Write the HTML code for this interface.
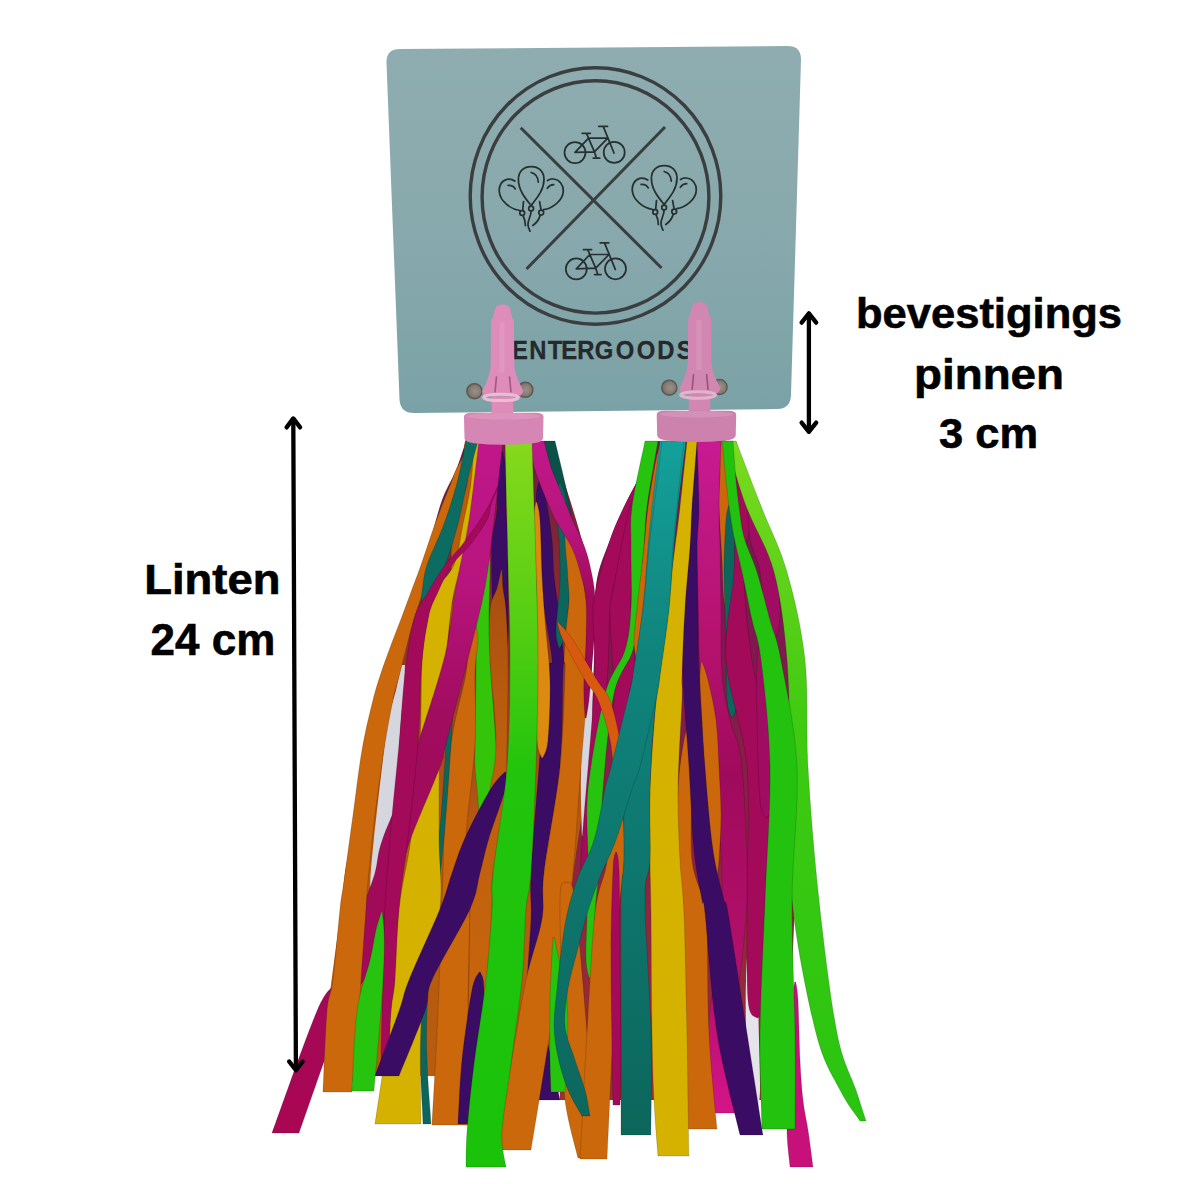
<!DOCTYPE html>
<html><head><meta charset="utf-8">
<style>
html,body{margin:0;padding:0;background:#fff;width:1200px;height:1184px;overflow:hidden}
svg{display:block}
text{font-family:"Liberation Sans",sans-serif;font-weight:bold}
</style></head><body>
<svg width="1200" height="1184" viewBox="0 0 1200 1184">
<defs>
<linearGradient id="cardg" x1="0" y1="0" x2="0" y2="1">
<stop offset="0" stop-color="#8fadb0"/><stop offset="0.55" stop-color="#87a8ac"/><stop offset="1" stop-color="#7aa2a6"/>
</linearGradient>
<linearGradient id="glm" gradientUnits="userSpaceOnUse" x1="0" y1="446" x2="0" y2="1167">
<stop offset="0" stop-color="#86d81c"/><stop offset="0.25" stop-color="#54ce12"/><stop offset="0.45" stop-color="#22c40c"/><stop offset="1" stop-color="#1ac20a"/>
</linearGradient>
<linearGradient id="glm2" gradientUnits="userSpaceOnUse" x1="0" y1="446" x2="0" y2="1130">
<stop offset="0" stop-color="#7ada1e"/><stop offset="0.4" stop-color="#40ca12"/><stop offset="1" stop-color="#28c410"/>
</linearGradient>
<linearGradient id="gtl" gradientUnits="userSpaceOnUse" x1="0" y1="445" x2="0" y2="1135">
<stop offset="0" stop-color="#14a09a"/><stop offset="0.3" stop-color="#0f847c"/><stop offset="1" stop-color="#0c665c"/>
</linearGradient>
<linearGradient id="gfl" gradientUnits="userSpaceOnUse" x1="0" y1="443" x2="0" y2="1076">
<stop offset="0" stop-color="#6a2040"/><stop offset="0.25" stop-color="#8a2a30"/><stop offset="0.6" stop-color="#b45a10"/><stop offset="1" stop-color="#b85c0e"/>
</linearGradient>
<linearGradient id="gfr" gradientUnits="userSpaceOnUse" x1="0" y1="443" x2="0" y2="1100">
<stop offset="0" stop-color="#6a2040"/><stop offset="0.3" stop-color="#801850"/><stop offset="1" stop-color="#9a3030"/>
</linearGradient>
<linearGradient id="gmg1" gradientUnits="userSpaceOnUse" x1="0" y1="441" x2="0" y2="1133">
<stop offset="0" stop-color="#c0168a"/><stop offset="0.2" stop-color="#b8147e"/><stop offset="0.4" stop-color="#a00c5e"/><stop offset="0.7" stop-color="#a00a58"/><stop offset="1" stop-color="#aa0654"/>
</linearGradient>
<linearGradient id="gor4" gradientUnits="userSpaceOnUse" x1="0" y1="560" x2="0" y2="1125">
<stop offset="0" stop-color="#a44c10"/><stop offset="0.3" stop-color="#bc5e0e"/><stop offset="1" stop-color="#cc680c"/>
</linearGradient>
<linearGradient id="gmga" gradientUnits="userSpaceOnUse" x1="0" y1="441" x2="0" y2="1113">
<stop offset="0" stop-color="#c81a92"/><stop offset="0.3" stop-color="#b4126e"/><stop offset="0.5" stop-color="#a00a5c"/><stop offset="0.8" stop-color="#b4106c"/><stop offset="1" stop-color="#d41488"/>
</linearGradient>
<radialGradient id="ghole" cx="0.55" cy="0.5" r="0.6">
<stop offset="0" stop-color="#9a928a"/><stop offset="0.6" stop-color="#847b73"/><stop offset="1" stop-color="#665e58"/>
</radialGradient>
<linearGradient id="gmg3" gradientUnits="userSpaceOnUse" x1="0" y1="441" x2="0" y2="700">
<stop offset="0" stop-color="#c0188a"/><stop offset="0.35" stop-color="#b8147c"/><stop offset="0.6" stop-color="#a00a58"/><stop offset="1" stop-color="#980852"/>
</linearGradient>
</defs>
<rect width="1200" height="1184" fill="#fff"/>
<!-- CARD -->
<path id="card" d="M400,49 L787.5,46 Q801.4,46 801,60 L791,395 Q790.5,409 777,409 L414,413 Q400,413 399.5,399 L386.5,63 Q386,49 400,49 Z" fill="url(#cardg)"/>
<!-- LOGO -->
<g fill="none" stroke="#3a3e3f" stroke-width="3.4">
<ellipse cx="595.5" cy="196" rx="125.3" ry="128.3"/>
<ellipse cx="595.5" cy="196.9" rx="113.4" ry="116.2"/>
<line x1="520.7" y1="127.7" x2="661.5" y2="268" stroke-width="3"/>
<line x1="665" y1="127" x2="526.5" y2="269" stroke-width="3"/>
</g>
<g id="bikes" fill="none" stroke="#273031" stroke-width="1.75" stroke-linecap="round" stroke-linejoin="round">
<g id="bike" transform="translate(560,120)">
<circle cx="15" cy="32.6" r="10.5"/>
<circle cx="54.2" cy="32.4" r="10.5"/>
<path d="M15,32.4 L34.4,31.8 L26.5,13.4 M22.2,13.3 L30.3,13.3 M28.6,18.1 L15,32.4 M28.6,18.1 L47.8,18.1 L34.4,31.8 M38.8,6.4 L47.5,6.4 M43.2,6.4 L54,33 M34.4,31.8 L36.5,38.2 M33.3,38.2 L39.7,38.2"/>
</g>
<use href="#bike" transform="translate(1.3,116.4)"/>
</g>
<g fill="none" stroke="#273031" stroke-width="1.75" stroke-linecap="round">
<g id="balloons" transform="translate(494,160)">
<path d="M37.1,45.5 C31,38 24.4,30 24.4,19.5 C24.4,11 30,6.7 37.2,6.7 C44.5,6.7 50,11 50,19.5 C50,30 43,38 37.1,45.5 Z"/>
<path d="M37.2,12.5 C41,13.5 44,17 44.3,22.1"/>
<circle cx="37.1" cy="48.5" r="2.4"/>
<path d="M37,51 C37.5,56 33.5,60 34,65 C34.3,68 35.5,70 36,71.2"/>
<path d="M20.8,21 C18,19 15,18.8 12.8,19.3 C7.5,20.5 5,26 5.2,31 C5.8,41 16,49 26,50.5"/>
<path d="M14.1,25.4 C17,25.2 20,26.5 21.2,28.9"/>
<path d="M29.5,41.7 L28.7,50"/>
<circle cx="28.2" cy="53" r="2.4"/>
<path d="M29,55.5 C30.5,58.5 31.3,62 31.4,65.5"/>
<path d="M53.5,20.5 C56,19 58,18.8 59.5,19 C65.5,19.5 69.5,25 69.3,31 C69,41 58,48.5 49.5,49.7"/>
<path d="M53.3,28.2 C55,26 57.5,24.8 59.7,24.7"/>
<path d="M45.6,41.7 L47,49.4"/>
<circle cx="47.2" cy="52.6" r="2.4"/>
<path d="M46.2,55 C45.5,59 43,62.5 38.8,65.5"/>
</g>
<use href="#balloons" transform="translate(133,-1)"/>
</g>
<g transform="scale(0.9,1)"><text x="568.9 588.0 608.7 623.6 641.3 660.9 684.2 707.6 730.2 752.0" y="359" font-size="26.5" fill="#25292b" stroke="#25292b" stroke-width="0.3">ENTERGOODS</text></g>
<!-- holes -->
<g fill="url(#ghole)" stroke="#5e5650" stroke-width="1.4">
<circle cx="474.4" cy="391.2" r="7.6"/><circle cx="525.3" cy="389.8" r="7.6"/>
<circle cx="669.3" cy="387.7" r="7.6"/><circle cx="719.5" cy="387" r="7.6"/>
</g>
<!-- RIBBONS placeholder -->
<g id="ribbons">
<path d="M466.0,441.0 C464.3,445.8 460.0,460.2 456.0,470.0 C452.0,479.8 446.2,488.3 442.0,500.0 C437.8,511.7 433.8,528.3 431.0,540.0 C428.2,551.7 429.2,558.3 425.0,570.0 C420.8,581.7 412.0,595.0 406.0,610.0 C400.0,625.0 394.0,645.0 389.0,660.0 C384.0,675.0 380.5,682.2 376.0,700.0 C371.5,717.8 366.2,744.0 362.0,767.0 C357.8,790.0 353.8,820.3 351.0,838.0 C348.2,855.7 346.7,861.2 345.0,873.0 C343.3,884.8 343.8,886.0 341.0,909.0 C338.2,932.0 330.8,983.2 328.0,1011.0 C325.2,1038.8 324.7,1065.2 324.0,1076.0 L600.0,1076.0 C600.0,1065.2 600.0,1038.8 600.0,1011.0 C600.0,983.2 600.3,932.0 600.0,909.0 C599.7,886.0 599.3,884.8 598.0,873.0 C596.7,861.2 593.7,855.7 592.0,838.0 C590.3,820.3 588.3,790.0 588.0,767.0 C587.7,744.0 589.3,717.8 590.0,700.0 C590.7,682.2 591.7,675.0 592.0,660.0 C592.3,645.0 592.3,625.0 592.0,610.0 C591.7,595.0 591.7,581.7 590.0,570.0 C588.3,558.3 585.3,551.7 582.0,540.0 C578.7,528.3 573.7,511.7 570.0,500.0 C566.3,488.3 564.0,479.8 560.0,470.0 C556.0,460.2 548.3,445.8 546.0,441.0 Z" fill="url(#gfl)"/>
<path d="M657.0,441.0 C654.7,445.8 648.5,459.0 643.0,470.0 C637.5,481.0 629.5,495.3 624.0,507.0 C618.5,518.7 614.7,527.0 610.0,540.0 C605.3,553.0 598.7,565.0 596.0,585.0 C593.3,605.0 595.3,629.7 594.0,660.0 C592.7,690.3 592.0,727.0 588.0,767.0 C584.0,807.0 574.7,855.7 570.0,900.0 C565.3,944.3 561.7,999.7 560.0,1033.0 C558.3,1066.3 560.0,1088.8 560.0,1100.0 L790.0,1100.0 C790.0,1088.8 789.2,1066.3 790.0,1033.0 C790.8,999.7 793.3,944.3 795.0,900.0 C796.7,855.7 799.2,807.0 800.0,767.0 C800.8,727.0 802.2,690.3 800.0,660.0 C797.8,629.7 792.0,605.0 787.0,585.0 C782.0,565.0 774.3,553.0 770.0,540.0 C765.7,527.0 765.2,518.7 761.0,507.0 C756.8,495.3 749.2,481.0 745.0,470.0 C740.8,459.0 737.5,445.8 736.0,441.0 Z" fill="url(#gfr)"/>
<path d="M749.0,930.0 C748.5,938.3 746.5,961.7 746.0,980.0 C745.5,998.3 745.7,1021.7 746.0,1040.0 C746.3,1058.3 747.3,1078.3 748.0,1090.0 C748.7,1101.7 749.7,1106.7 750.0,1110.0 L758.0,1110.0 C758.3,1106.7 759.8,1101.7 760.0,1090.0 C760.2,1078.3 759.5,1058.3 759.0,1040.0 C758.5,1021.7 758.3,998.3 757.0,980.0 C755.7,961.7 752.0,938.3 751.0,930.0 Z" fill="#e4e4ea"/>
<path d="M401.0,665.0 C400.2,669.2 398.2,680.8 396.0,690.0 C393.8,699.2 390.3,707.2 388.0,720.0 C385.7,732.8 384.3,747.3 382.0,767.0 C379.7,786.7 375.8,820.8 374.0,838.0 C372.2,855.2 371.7,861.3 371.0,870.0 C370.3,878.7 370.2,886.7 370.0,890.0 L374.0,890.0 C375.2,886.7 378.0,878.7 381.0,870.0 C384.0,861.3 389.2,855.2 392.0,838.0 C394.8,820.8 396.5,786.7 398.0,767.0 C399.5,747.3 400.0,732.8 401.0,720.0 C402.0,707.2 403.3,699.2 404.0,690.0 C404.7,680.8 404.8,669.2 405.0,665.0 Z" fill="#d6d6de"/>
<path d="M584.0,660.0 C583.7,666.7 582.5,682.2 582.0,700.0 C581.5,717.8 581.2,750.3 581.0,767.0 C580.8,783.7 580.8,788.5 581.0,800.0 C581.2,811.5 581.8,830.0 582.0,836.0 L588.0,836.0 C588.3,830.0 589.0,811.5 590.0,800.0 C591.0,788.5 593.7,783.7 594.0,767.0 C594.3,750.3 592.7,717.8 592.0,700.0 C591.3,682.2 590.3,666.7 590.0,660.0 Z" fill="#d6d6de"/>
<path d="M544.0,441.0 C545.8,450.3 552.2,482.2 555.0,497.0 C557.8,511.8 559.8,518.7 561.0,530.0 C562.2,541.3 561.3,556.2 562.0,565.0 C562.7,573.8 564.7,580.0 565.2,583.0 L566.2,583.0 C566.9,580.0 569.0,573.8 570.0,565.0 C571.0,556.2 572.3,541.3 572.0,530.0 C571.7,518.7 570.8,511.8 568.0,497.0 C565.2,482.2 557.2,450.3 555.0,441.0 Z" fill="#0a5248" stroke="#000" stroke-opacity="0.16" stroke-width="1"/>
<path d="M468.2,432.0 C467.5,435.0 464.2,441.5 464.0,450.0 C463.8,458.5 468.7,470.7 467.0,483.0 C465.3,495.3 456.7,510.3 454.0,524.0 C451.3,537.7 451.0,553.7 451.0,565.0 C451.0,576.3 454.2,583.0 454.0,592.0 C453.8,601.0 450.3,609.3 450.0,619.0 C449.7,628.7 451.2,641.8 452.0,650.0 C452.8,658.2 454.1,665.0 454.5,668.0 L455.5,668.0 C455.9,665.0 457.2,658.2 458.0,650.0 C458.8,641.8 459.0,628.7 460.0,619.0 C461.0,609.3 463.7,601.0 464.0,592.0 C464.3,583.0 462.0,576.3 462.0,565.0 C462.0,553.7 462.3,537.7 464.0,524.0 C465.7,510.3 470.3,495.3 472.0,483.0 C473.7,470.7 474.5,458.5 474.0,450.0 C473.5,441.5 470.0,435.0 469.2,432.0 Z" fill="#b85c0a" stroke="#000" stroke-opacity="0.16" stroke-width="1"/>
<path d="M501.7,452.0 C501.1,455.0 498.8,460.3 498.0,470.0 C497.2,479.7 498.0,498.0 497.0,510.0 C496.0,522.0 492.8,529.2 492.0,542.0 C491.2,554.8 491.7,570.7 492.0,587.0 C492.3,603.3 492.5,628.2 494.0,640.0 C495.5,651.8 499.7,655.0 500.8,658.0 L501.8,658.0 C502.9,655.0 507.0,651.8 508.0,640.0 C509.0,628.2 508.0,603.3 508.0,587.0 C508.0,570.7 508.3,554.8 508.0,542.0 C507.7,529.2 506.3,522.0 506.0,510.0 C505.7,498.0 506.5,479.7 506.0,470.0 C505.5,460.3 503.3,455.0 502.7,452.0 Z" fill="#3a0c64" stroke="#000" stroke-opacity="0.16" stroke-width="1"/>
<path d="M538.7,482.0 C538.2,485.0 536.1,490.3 536.0,500.0 C535.9,509.7 537.3,527.5 538.0,540.0 C538.7,552.5 538.7,561.7 540.0,575.0 C541.3,588.3 544.0,605.8 546.0,620.0 C548.0,634.2 551.8,651.2 552.0,660.0 C552.2,668.8 549.2,655.2 547.0,673.0 C544.8,690.8 541.7,733.7 539.0,767.0 C536.3,800.3 532.3,847.7 531.0,873.0 C529.7,898.3 531.7,897.8 531.0,919.0 C530.3,940.2 526.7,969.8 527.0,1000.0 C527.3,1030.2 532.0,1083.3 533.0,1100.0 L560.0,1100.0 C556.8,1083.3 543.7,1030.2 541.0,1000.0 C538.3,969.8 543.5,940.2 544.0,919.0 C544.5,897.8 541.3,898.3 544.0,873.0 C546.7,847.7 556.8,800.3 560.0,767.0 C563.2,733.7 562.3,690.8 563.0,673.0 C563.7,655.2 564.5,668.8 564.0,660.0 C563.5,651.2 561.7,634.2 560.0,620.0 C558.3,605.8 555.3,588.3 554.0,575.0 C552.7,561.7 553.3,552.5 552.0,540.0 C550.7,527.5 548.0,509.7 546.0,500.0 C544.0,490.3 540.8,485.0 539.7,482.0 Z" fill="#3a0c64" stroke="#000" stroke-opacity="0.16" stroke-width="1"/>
<path d="M535.8,502.0 C535.5,505.0 534.0,507.8 534.0,520.0 C534.0,532.2 535.5,558.3 536.0,575.0 C536.5,591.7 536.8,602.5 537.0,620.0 C537.2,637.5 537.0,660.0 537.0,680.0 C537.0,700.0 536.2,727.0 537.0,740.0 C537.8,753.0 540.9,755.0 541.7,758.0 L542.7,758.0 C543.6,755.0 546.8,753.0 548.0,740.0 C549.2,727.0 550.5,700.0 550.0,680.0 C549.5,660.0 546.3,637.5 545.0,620.0 C543.7,602.5 542.8,591.7 542.0,575.0 C541.2,558.3 540.9,532.2 540.0,520.0 C539.1,507.8 537.4,505.0 536.8,502.0 Z" fill="#dc8a10" stroke="#000" stroke-opacity="0.16" stroke-width="1"/>
<path d="M559.4,482.0 C558.8,485.0 556.1,490.3 556.0,500.0 C555.9,509.7 558.3,526.7 559.0,540.0 C559.7,553.3 560.5,565.0 560.0,580.0 C559.5,595.0 556.2,618.7 556.0,630.0 C555.8,641.3 558.5,645.0 559.1,648.0 L560.1,648.0 C561.0,645.0 564.3,641.3 566.0,630.0 C567.7,618.7 569.7,595.0 570.0,580.0 C570.3,565.0 568.7,553.3 568.0,540.0 C567.3,526.7 567.3,509.7 566.0,500.0 C564.7,490.3 561.3,485.0 560.4,482.0 Z" fill="#0d665c" stroke="#000" stroke-opacity="0.16" stroke-width="1"/>
<path d="M483.9,542.0 C483.0,545.0 479.3,547.0 478.0,560.0 C476.7,573.0 476.3,601.2 476.0,620.0 C475.7,638.8 476.2,652.3 476.0,673.0 C475.8,693.7 475.2,728.3 475.0,744.0 C474.8,759.7 474.5,757.7 475.0,767.0 C475.5,776.3 477.2,789.5 478.0,800.0 C478.8,810.5 479.6,822.0 480.0,830.0 C480.4,838.0 480.2,845.0 480.3,848.0 L481.3,848.0 C481.8,845.0 482.6,838.0 484.0,830.0 C485.4,822.0 488.0,810.5 490.0,800.0 C492.0,789.5 495.0,776.3 496.0,767.0 C497.0,757.7 496.8,759.7 496.0,744.0 C495.2,728.3 492.2,693.7 491.0,673.0 C489.8,652.3 489.2,638.8 489.0,620.0 C488.8,601.2 490.7,573.0 490.0,560.0 C489.3,547.0 485.8,545.0 484.9,542.0 Z" fill="#34c40a" stroke="#000" stroke-opacity="0.16" stroke-width="1"/>
<path d="M501.1,570.0 C500.4,573.0 498.9,581.3 497.0,588.0 C495.1,594.7 491.2,598.0 490.0,610.0 C488.8,622.0 489.0,637.7 490.0,660.0 C491.0,682.3 496.3,720.7 496.0,744.0 C495.7,767.3 491.5,778.5 488.0,800.0 C484.5,821.5 478.0,854.8 475.0,873.0 C472.0,891.2 471.2,886.0 470.0,909.0 C468.8,932.0 469.7,975.0 468.0,1011.0 C466.3,1047.0 461.3,1106.0 460.0,1125.0 L490.0,1125.0 C489.5,1106.0 486.7,1047.0 487.0,1011.0 C487.3,975.0 491.0,932.0 492.0,909.0 C493.0,886.0 490.8,891.2 493.0,873.0 C495.2,854.8 502.7,821.5 505.0,800.0 C507.3,778.5 506.5,767.3 507.0,744.0 C507.5,720.7 508.2,682.3 508.0,660.0 C507.8,637.7 506.8,622.0 506.0,610.0 C505.2,598.0 503.6,594.7 503.0,588.0 C502.4,581.3 502.3,573.0 502.1,570.0 Z" fill="url(#gor4)" stroke="#000" stroke-opacity="0.16" stroke-width="1"/>
<path d="M473.9,622.0 C472.9,625.0 469.3,631.5 468.0,640.0 C466.7,648.5 468.8,655.7 466.0,673.0 C463.2,690.3 454.7,716.5 451.0,744.0 C447.3,771.5 445.3,816.5 444.0,838.0 C442.7,859.5 444.0,844.2 443.0,873.0 C442.0,901.8 439.8,969.0 438.0,1011.0 C436.2,1053.0 433.0,1106.0 432.0,1125.0 L468.0,1125.0 C468.0,1106.0 467.7,1053.0 468.0,1011.0 C468.3,969.0 470.3,901.8 470.0,873.0 C469.7,844.2 465.2,859.5 466.0,838.0 C466.8,816.5 473.5,771.5 475.0,744.0 C476.5,716.5 474.5,690.3 475.0,673.0 C475.5,655.7 478.0,648.5 478.0,640.0 C478.0,631.5 475.4,625.0 474.9,622.0 Z" fill="#cc680c" stroke="#000" stroke-opacity="0.16" stroke-width="1"/>
<path d="M450.8,682.0 C450.3,685.0 448.8,689.7 448.0,700.0 C447.2,710.3 447.5,721.0 446.0,744.0 C444.5,767.0 443.2,793.5 439.0,838.0 C434.8,882.5 423.7,963.3 421.0,1011.0 C418.3,1058.7 422.7,1105.2 423.0,1124.0 L431.0,1124.0 C430.3,1105.2 424.8,1058.7 427.0,1011.0 C429.2,963.3 440.0,882.5 444.0,838.0 C448.0,793.5 449.5,767.0 451.0,744.0 C452.5,721.0 452.9,710.3 453.0,700.0 C453.1,689.7 452.0,685.0 451.8,682.0 Z" fill="#0d665c" stroke="#000" stroke-opacity="0.16" stroke-width="1"/>
<path d="M474.0,441.0 C473.5,448.0 472.8,469.2 471.0,483.0 C469.2,496.8 465.8,510.3 463.0,524.0 C460.2,537.7 458.8,553.7 454.0,565.0 C449.2,576.3 438.3,583.0 434.0,592.0 C429.7,601.0 430.0,607.7 428.0,619.0 C426.0,630.3 423.3,639.2 422.0,660.0 C420.7,680.8 421.8,714.3 420.0,744.0 C418.2,773.7 414.5,810.5 411.0,838.0 C407.5,865.5 402.3,880.2 399.0,909.0 C395.7,937.8 395.0,975.2 391.0,1011.0 C387.0,1046.8 377.7,1105.2 375.0,1124.0 L421.0,1124.0 C421.2,1105.2 418.8,1046.8 422.0,1011.0 C425.2,975.2 437.2,937.8 440.0,909.0 C442.8,880.2 439.0,865.5 439.0,838.0 C439.0,810.5 438.8,773.7 440.0,744.0 C441.2,714.3 444.3,680.8 446.0,660.0 C447.7,639.2 448.7,630.3 450.0,619.0 C451.3,607.7 452.2,601.0 454.0,592.0 C455.8,583.0 458.3,576.3 461.0,565.0 C463.7,553.7 467.3,537.7 470.0,524.0 C472.7,510.3 475.2,496.8 477.0,483.0 C478.8,469.2 480.3,448.0 481.0,441.0 Z" fill="#d6b200" stroke="#000" stroke-opacity="0.16" stroke-width="1"/>
<path d="M479.0,441.0 C477.3,454.2 472.8,495.7 469.0,520.0 C465.2,544.3 460.0,564.5 456.0,587.0 C452.0,609.5 451.3,628.8 445.0,655.0 C438.7,681.2 423.3,725.3 418.0,744.0 C412.7,762.7 418.8,751.3 413.0,767.0 C407.2,782.7 389.3,820.3 383.0,838.0 C376.7,855.7 378.3,861.2 375.0,873.0 C371.7,884.8 365.5,897.8 363.0,909.0 C360.5,920.2 364.2,928.2 360.0,940.0 C355.8,951.8 345.2,968.2 338.0,980.0 C330.8,991.8 328.0,985.5 317.0,1011.0 C306.0,1036.5 279.5,1112.7 272.0,1133.0 L299.0,1133.0 C306.3,1112.7 332.2,1036.5 343.0,1011.0 C353.8,985.5 357.0,991.8 364.0,980.0 C371.0,968.2 381.0,951.8 385.0,940.0 C389.0,928.2 385.3,920.2 388.0,909.0 C390.7,897.8 397.2,884.8 401.0,873.0 C404.8,861.2 404.5,855.7 411.0,838.0 C417.5,820.3 434.2,782.7 440.0,767.0 C445.8,751.3 441.2,762.7 446.0,744.0 C450.8,725.3 462.5,681.2 469.0,655.0 C475.5,628.8 480.8,609.5 485.0,587.0 C489.2,564.5 491.0,544.3 494.0,520.0 C497.0,495.7 501.5,454.2 503.0,441.0 Z" fill="url(#gmg1)" stroke="#000" stroke-opacity="0.16" stroke-width="1"/>
<path d="M465.9,452.0 C464.3,455.0 458.5,464.8 456.0,470.0 C453.5,475.2 454.5,474.0 451.0,483.0 C447.5,492.0 440.0,510.3 435.0,524.0 C430.0,537.7 425.0,553.7 421.0,565.0 C417.0,576.3 414.3,583.0 411.0,592.0 C407.7,601.0 404.3,610.2 401.0,619.0 C397.7,627.8 394.3,636.0 391.0,645.0 C387.7,654.0 384.0,663.8 381.0,673.0 C378.0,682.2 376.2,687.2 373.0,700.0 C369.8,712.8 365.3,730.8 362.0,750.0 C358.7,769.2 356.0,793.2 353.0,815.0 C350.0,836.8 346.2,865.3 344.0,881.0 C341.8,896.7 341.8,892.5 340.0,909.0 C338.2,925.5 335.2,963.0 333.0,980.0 C330.8,997.0 328.7,992.3 327.0,1011.0 C325.3,1029.7 323.7,1078.5 323.0,1092.0 L352.0,1092.0 C353.2,1078.5 357.5,1029.7 359.0,1011.0 C360.5,992.3 359.8,997.0 361.0,980.0 C362.2,963.0 364.8,925.5 366.0,909.0 C367.2,892.5 366.5,896.7 368.0,881.0 C369.5,865.3 372.3,836.8 375.0,815.0 C377.7,793.2 381.0,769.2 384.0,750.0 C387.0,730.8 390.3,712.8 393.0,700.0 C395.7,687.2 397.7,682.2 400.0,673.0 C402.3,663.8 404.7,654.0 407.0,645.0 C409.3,636.0 411.3,627.8 414.0,619.0 C416.7,610.2 420.2,601.0 423.0,592.0 C425.8,583.0 427.3,576.3 431.0,565.0 C434.7,553.7 440.5,537.7 445.0,524.0 C449.5,510.3 455.0,492.0 458.0,483.0 C461.0,474.0 461.5,475.2 463.0,470.0 C464.5,464.8 466.3,455.0 466.9,452.0 Z" fill="#cc680c" stroke="#000" stroke-opacity="0.16" stroke-width="1"/>
<path d="M466.0,441.0 C464.5,448.0 460.7,469.2 457.0,483.0 C453.3,496.8 449.0,510.3 444.0,524.0 C439.0,537.7 430.7,553.7 427.0,565.0 C423.3,576.3 423.0,585.8 422.0,592.0 C421.0,598.2 421.9,597.3 421.0,602.0 C420.1,606.7 417.3,617.0 416.6,620.0 L417.6,620.0 C418.7,617.0 422.1,606.7 424.0,602.0 C425.9,597.3 425.5,598.2 429.0,592.0 C432.5,585.8 440.2,576.3 445.0,565.0 C449.8,553.7 454.3,537.7 458.0,524.0 C461.7,510.3 463.7,496.8 467.0,483.0 C470.3,469.2 476.2,448.0 478.0,441.0 Z" fill="#0d6c62" stroke="#000" stroke-opacity="0.16" stroke-width="1"/>
<path d="M497.3,487.0 C495.9,490.0 491.9,499.5 489.0,505.0 C486.1,510.5 484.5,513.3 480.0,520.0 C475.5,526.7 467.8,537.5 462.0,545.0 C456.2,552.5 450.7,557.2 445.0,565.0 C439.3,572.8 433.2,583.0 428.0,592.0 C422.8,601.0 417.8,605.5 414.0,619.0 C410.2,632.5 407.5,652.2 405.0,673.0 C402.5,693.8 401.5,716.5 399.0,744.0 C396.5,771.5 392.3,810.5 390.0,838.0 C387.7,865.5 386.2,885.3 385.0,909.0 C383.8,932.7 383.5,963.0 383.0,980.0 C382.5,997.0 382.3,997.7 382.0,1011.0 C381.7,1024.3 381.2,1051.8 381.0,1060.0 L389.0,1060.0 C389.3,1051.8 390.0,1024.3 391.0,1011.0 C392.0,997.7 393.7,997.0 395.0,980.0 C396.3,963.0 396.8,932.7 399.0,909.0 C401.2,885.3 404.8,865.5 408.0,838.0 C411.2,810.5 415.8,771.5 418.0,744.0 C420.2,716.5 419.3,693.8 421.0,673.0 C422.7,652.2 425.2,632.5 428.0,619.0 C430.8,605.5 434.0,601.0 438.0,592.0 C442.0,583.0 446.7,572.8 452.0,565.0 C457.3,557.2 464.2,552.5 470.0,545.0 C475.8,537.5 483.5,526.7 487.0,520.0 C490.5,513.3 489.1,510.5 491.0,505.0 C492.9,499.5 497.1,490.0 498.3,487.0 Z" fill="#a40a5a" stroke="#000" stroke-opacity="0.16" stroke-width="1"/>
<path d="M381.3,912.0 C380.4,915.0 377.9,922.0 376.0,930.0 C374.1,938.0 373.2,946.5 370.0,960.0 C366.8,973.5 360.0,989.2 357.0,1011.0 C354.0,1032.8 352.8,1077.7 352.0,1091.0 L374.0,1091.0 C375.2,1077.7 379.3,1032.8 381.0,1011.0 C382.7,989.2 383.5,973.5 384.0,960.0 C384.5,946.5 384.3,938.0 384.0,930.0 C383.7,922.0 382.6,915.0 382.3,912.0 Z" fill="#26c40e" stroke="#000" stroke-opacity="0.16" stroke-width="1"/>
<path d="M504.7,772.0 C502.2,775.0 496.6,779.0 490.0,790.0 C483.4,801.0 471.3,824.2 465.0,838.0 C458.7,851.8 456.2,861.2 452.0,873.0 C447.8,884.8 447.2,891.2 440.0,909.0 C432.8,926.8 415.8,963.0 409.0,980.0 C402.2,997.0 404.7,995.0 399.0,1011.0 C393.3,1027.0 379.0,1065.2 375.0,1076.0 L399.0,1076.0 C403.3,1065.2 419.5,1027.0 425.0,1011.0 C430.5,995.0 424.5,997.0 432.0,980.0 C439.5,963.0 462.0,926.8 470.0,909.0 C478.0,891.2 476.8,884.8 480.0,873.0 C483.2,861.2 484.8,851.8 489.0,838.0 C493.2,824.2 502.2,801.0 505.0,790.0 C507.8,779.0 505.6,775.0 505.7,772.0 Z" fill="#3a0c64" stroke="#000" stroke-opacity="0.16" stroke-width="1"/>
<path d="M566.5,522.0 C566.2,525.0 564.9,532.8 565.0,540.0 C565.1,547.2 566.5,558.3 567.0,565.0 C567.5,571.7 567.7,574.2 568.0,580.0 C568.3,585.8 569.3,591.7 569.0,600.0 C568.7,608.3 566.8,620.0 566.0,630.0 C565.2,640.0 564.2,652.8 564.0,660.0 C563.8,667.2 565.7,655.2 565.0,673.0 C564.3,690.8 563.5,733.7 560.0,767.0 C556.5,800.3 547.0,847.7 544.0,873.0 C541.0,898.3 545.0,901.2 542.0,919.0 C539.0,936.8 531.2,955.8 526.0,980.0 C520.8,1004.2 515.7,1035.7 511.0,1064.0 C506.3,1092.3 500.2,1135.7 498.0,1150.0 L531.0,1150.0 C533.3,1135.7 540.5,1092.3 545.0,1064.0 C549.5,1035.7 554.5,1004.2 558.0,980.0 C561.5,955.8 563.5,936.8 566.0,919.0 C568.5,901.2 570.5,898.3 573.0,873.0 C575.5,847.7 578.3,800.3 581.0,767.0 C583.7,733.7 587.3,690.8 589.0,673.0 C590.7,655.2 590.8,667.2 591.0,660.0 C591.2,652.8 590.8,640.0 590.0,630.0 C589.2,620.0 587.2,608.3 586.0,600.0 C584.8,591.7 584.2,585.8 583.0,580.0 C581.8,574.2 580.5,571.7 579.0,565.0 C577.5,558.3 575.9,547.2 574.0,540.0 C572.1,532.8 568.6,525.0 567.5,522.0 Z" fill="#cc680c" stroke="#000" stroke-opacity="0.16" stroke-width="1"/>
<path d="M527.0,441.0 C528.3,445.8 532.2,461.2 535.0,470.0 C537.8,478.8 540.5,485.5 544.0,494.0 C547.5,502.5 551.3,512.0 556.0,521.0 C560.7,530.0 567.8,539.0 572.0,548.0 C576.2,557.0 578.7,566.3 581.0,575.0 C583.3,583.7 585.2,589.2 586.0,600.0 C586.8,610.8 586.3,627.2 586.0,640.0 C585.7,652.8 584.3,667.0 584.0,677.0 C583.7,687.0 583.8,693.2 584.0,700.0 C584.2,706.8 585.0,715.0 585.2,718.0 L586.2,718.0 C586.7,715.0 588.2,706.8 589.0,700.0 C589.8,693.2 590.2,687.0 591.0,677.0 C591.8,667.0 593.3,652.8 594.0,640.0 C594.7,627.2 595.3,610.8 595.0,600.0 C594.7,589.2 593.7,583.7 592.0,575.0 C590.3,566.3 588.2,557.0 585.0,548.0 C581.8,539.0 576.8,530.0 573.0,521.0 C569.2,512.0 565.5,502.5 562.0,494.0 C558.5,485.5 555.0,478.8 552.0,470.0 C549.0,461.2 545.3,445.8 544.0,441.0 Z" fill="url(#gmg3)" stroke="#000" stroke-opacity="0.16" stroke-width="1"/>
<path d="M479.3,972.0 C478.1,975.0 474.9,975.3 472.0,990.0 C469.1,1004.7 464.3,1037.7 462.0,1060.0 C459.7,1082.3 458.7,1113.3 458.0,1124.0 L476.0,1124.0 C476.7,1113.3 478.7,1082.3 480.0,1060.0 C481.3,1037.7 483.9,1004.7 484.0,990.0 C484.1,975.3 480.9,975.0 480.3,972.0 Z" fill="#3a0c64" stroke="#000" stroke-opacity="0.16" stroke-width="1"/>
<path d="M505.0,441.0 C505.5,461.7 507.2,528.5 508.0,565.0 C508.8,601.5 510.2,626.3 510.0,660.0 C509.8,693.7 509.8,731.5 507.0,767.0 C504.2,802.5 495.5,849.3 493.0,873.0 C490.5,896.7 493.2,891.2 492.0,909.0 C490.8,926.8 489.0,954.2 486.0,980.0 C483.0,1005.8 477.2,1038.7 474.0,1064.0 C470.8,1089.3 468.3,1114.8 467.0,1132.0 C465.7,1149.2 466.2,1161.2 466.0,1167.0 L506.0,1167.0 C505.3,1161.2 501.2,1149.2 502.0,1132.0 C502.8,1114.8 507.7,1089.3 511.0,1064.0 C514.3,1038.7 519.5,1005.8 522.0,980.0 C524.5,954.2 524.5,926.8 526.0,909.0 C527.5,891.2 529.3,896.7 531.0,873.0 C532.7,849.3 534.8,802.5 536.0,767.0 C537.2,731.5 538.0,693.7 538.0,660.0 C538.0,626.3 537.0,601.5 536.0,565.0 C535.0,528.5 532.7,461.7 532.0,441.0 Z" fill="url(#glm)" stroke="#000" stroke-opacity="0.16" stroke-width="1"/>
<path d="M566.0,882.0 C565.0,885.0 560.5,874.8 560.0,900.0 C559.5,925.2 562.2,999.7 563.0,1033.0 C563.8,1066.3 562.5,1079.2 565.0,1100.0 C567.5,1120.8 575.8,1148.3 578.0,1158.0 L600.0,1158.0 C598.3,1148.3 592.2,1120.8 590.0,1100.0 C587.8,1079.2 589.5,1066.3 587.0,1033.0 C584.5,999.7 578.3,925.2 575.0,900.0 C571.7,874.8 568.3,885.0 567.0,882.0 Z" fill="#cc680c" stroke="#000" stroke-opacity="0.16" stroke-width="1"/>
<path d="M656.3,452.0 C654.2,455.0 649.4,460.8 644.0,470.0 C638.6,479.2 629.7,495.3 624.0,507.0 C618.3,518.7 614.5,527.0 610.0,540.0 C605.5,553.0 599.8,573.0 597.0,585.0 C594.2,597.0 593.3,598.2 593.0,612.0 C592.7,625.8 595.2,650.0 595.0,668.0 C594.8,686.0 594.3,688.0 592.0,720.0 C589.7,752.0 582.2,830.0 581.0,860.0 C579.8,890.0 583.3,890.3 585.0,900.0 C586.7,909.7 590.2,915.0 591.3,918.0 L592.3,918.0 C592.8,915.0 595.2,909.7 595.0,900.0 C594.8,890.3 589.5,890.0 591.0,860.0 C592.5,830.0 601.2,752.0 604.0,720.0 C606.8,688.0 607.0,686.0 608.0,668.0 C609.0,650.0 609.0,625.8 610.0,612.0 C611.0,598.2 611.3,597.0 614.0,585.0 C616.7,573.0 622.3,553.0 626.0,540.0 C629.7,527.0 631.7,518.7 636.0,507.0 C640.3,495.3 648.5,479.2 652.0,470.0 C655.5,460.8 656.4,455.0 657.3,452.0 Z" fill="#a40a5a" stroke="#000" stroke-opacity="0.16" stroke-width="1"/>
<path d="M657.8,452.0 C655.8,455.0 650.6,460.8 646.0,470.0 C641.4,479.2 635.3,487.8 630.0,507.0 C624.7,526.2 617.3,567.5 614.0,585.0 C610.7,602.5 610.2,598.2 610.0,612.0 C609.8,625.8 612.3,654.3 613.0,668.0 C613.7,681.7 614.2,682.0 614.0,694.0 C613.8,706.0 611.5,729.3 612.0,740.0 C612.5,750.7 616.0,755.0 616.8,758.0 L617.8,758.0 C619.0,755.0 623.1,750.7 625.0,740.0 C626.9,729.3 627.3,706.0 629.0,694.0 C630.7,682.0 634.7,681.7 635.0,668.0 C635.3,654.3 631.5,625.8 631.0,612.0 C630.5,598.2 630.2,602.5 632.0,585.0 C633.8,567.5 638.0,526.2 642.0,507.0 C646.0,487.8 653.2,479.2 656.0,470.0 C658.8,460.8 658.3,455.0 658.8,452.0 Z" fill="#a40a5a" stroke="#000" stroke-opacity="0.16" stroke-width="1"/>
<path d="M645.0,441.0 C642.8,452.0 634.3,489.3 632.0,507.0 C629.7,524.7 631.2,530.2 631.0,547.0 C630.8,563.8 632.0,590.8 631.0,608.0 C630.0,625.2 629.3,635.7 625.0,650.0 C620.7,664.3 611.2,670.8 605.0,694.0 C598.8,717.2 590.8,761.3 588.0,789.0 C585.2,816.7 588.2,839.3 588.0,860.0 C587.8,880.7 587.3,896.3 587.0,913.0 C586.7,929.7 585.6,949.2 586.0,960.0 C586.4,970.8 588.6,975.0 589.1,978.0 L590.1,978.0 C590.8,975.0 593.2,970.8 594.0,960.0 C594.8,949.2 594.0,929.7 595.0,913.0 C596.0,896.3 598.7,880.7 600.0,860.0 C601.3,839.3 600.7,816.7 603.0,789.0 C605.3,761.3 609.0,717.2 614.0,694.0 C619.0,670.8 629.0,664.3 633.0,650.0 C637.0,635.7 636.2,625.2 638.0,608.0 C639.8,590.8 642.5,563.8 644.0,547.0 C645.5,530.2 644.7,524.7 647.0,507.0 C649.3,489.3 656.2,452.0 658.0,441.0 Z" fill="#26c40e" stroke="#000" stroke-opacity="0.16" stroke-width="1"/>
<path d="M557.1,622.0 C558.1,625.0 558.4,630.3 563.0,640.0 C567.6,649.7 579.2,670.0 585.0,680.0 C590.8,690.0 593.8,690.0 598.0,700.0 C602.2,710.0 607.2,726.7 610.0,740.0 C612.8,753.3 613.0,770.3 615.0,780.0 C617.0,789.7 620.6,795.0 621.8,798.0 L622.8,798.0 C623.1,795.0 625.5,789.7 625.0,780.0 C624.5,770.3 622.5,753.3 620.0,740.0 C617.5,726.7 613.8,710.0 610.0,700.0 C606.2,690.0 603.2,690.0 597.0,680.0 C590.8,670.0 579.5,649.7 573.0,640.0 C566.5,630.3 560.6,625.0 558.1,622.0 Z" fill="#d85a10" stroke="#000" stroke-opacity="0.16" stroke-width="1"/>
<path d="M612.4,782.0 C611.2,785.0 605.9,787.0 605.0,800.0 C604.1,813.0 608.7,841.2 607.0,860.0 C605.3,878.8 598.3,884.2 595.0,913.0 C591.7,941.8 589.5,992.0 587.0,1033.0 C584.5,1074.0 581.2,1138.0 580.0,1159.0 L607.0,1159.0 C608.0,1138.0 611.0,1074.0 613.0,1033.0 C615.0,992.0 617.2,941.8 619.0,913.0 C620.8,884.2 623.5,878.8 624.0,860.0 C624.5,841.2 623.8,813.0 622.0,800.0 C620.2,787.0 614.8,785.0 613.4,782.0 Z" fill="#cc680c" stroke="#000" stroke-opacity="0.16" stroke-width="1"/>
<path d="M722.5,432.0 C722.1,435.0 720.4,443.7 720.0,450.0 C719.6,456.3 720.2,460.7 720.0,470.0 C719.8,479.3 718.7,491.0 719.0,506.0 C719.3,521.0 721.2,544.3 722.0,560.0 C722.8,575.7 722.8,590.3 724.0,600.0 C725.2,609.7 728.5,615.0 729.4,618.0 L730.4,618.0 C731.0,615.0 733.7,609.7 734.0,600.0 C734.3,590.3 732.7,575.7 732.0,560.0 C731.3,544.3 730.7,521.0 730.0,506.0 C729.3,491.0 728.5,479.3 728.0,470.0 C727.5,460.7 727.7,456.3 727.0,450.0 C726.3,443.7 724.1,435.0 723.5,432.0 Z" fill="#cc680c" stroke="#000" stroke-opacity="0.16" stroke-width="1"/>
<path d="M661.2,442.0 C660.3,445.0 658.2,449.2 656.0,460.0 C653.8,470.8 650.0,492.5 648.0,507.0 C646.0,521.5 645.8,530.2 644.0,547.0 C642.2,563.8 638.7,592.5 637.0,608.0 C635.3,623.5 634.2,631.7 634.0,640.0 C633.8,648.3 635.5,655.0 635.8,658.0 L636.8,658.0 C637.7,655.0 640.6,648.3 642.0,640.0 C643.4,631.7 643.8,623.5 645.0,608.0 C646.2,592.5 647.2,563.8 649.0,547.0 C650.8,530.2 653.8,521.5 656.0,507.0 C658.2,492.5 661.0,470.8 662.0,460.0 C663.0,449.2 662.2,445.0 662.2,442.0 Z" fill="#cc680c" stroke="#000" stroke-opacity="0.16" stroke-width="1"/>
<path d="M729.7,502.0 C729.1,505.0 726.9,508.3 726.0,520.0 C725.1,531.7 724.0,552.0 724.0,572.0 C724.0,592.0 725.5,618.7 726.0,640.0 C726.5,661.3 726.0,687.0 727.0,700.0 C728.0,713.0 731.0,715.0 731.8,718.0 L732.8,718.0 C733.5,715.0 736.5,713.0 737.0,700.0 C737.5,687.0 736.3,661.3 736.0,640.0 C735.7,618.7 735.3,592.0 735.0,572.0 C734.7,552.0 734.7,531.7 734.0,520.0 C733.3,508.3 731.2,505.0 730.7,502.0 Z" fill="#0d665c" stroke="#000" stroke-opacity="0.16" stroke-width="1"/>
<path d="M730.5,452.0 C730.4,455.0 729.4,461.0 730.0,470.0 C730.6,479.0 733.3,489.0 734.0,506.0 C734.7,523.0 735.3,546.3 734.0,572.0 C732.7,597.7 723.8,627.5 726.0,660.0 C728.2,692.5 743.5,727.0 747.0,767.0 C750.5,807.0 746.8,861.2 747.0,900.0 C747.2,938.8 746.4,980.3 748.0,1000.0 C749.6,1019.7 755.2,1015.0 756.7,1018.0 L757.7,1018.0 C759.1,1015.0 764.8,1019.7 766.0,1000.0 C767.2,980.3 763.8,938.8 765.0,900.0 C766.2,861.2 775.2,807.0 773.0,767.0 C770.8,727.0 756.8,692.5 752.0,660.0 C747.2,627.5 744.0,597.7 744.0,572.0 C744.0,546.3 752.7,523.0 752.0,506.0 C751.3,489.0 743.4,479.0 740.0,470.0 C736.6,461.0 732.9,455.0 731.5,452.0 Z" fill="#a40a5a" stroke="#000" stroke-opacity="0.16" stroke-width="1"/>
<path d="M744.3,477.0 C744.8,480.0 746.1,484.7 747.0,495.0 C747.9,505.3 747.8,526.2 750.0,539.0 C752.2,551.8 757.8,558.5 760.0,572.0 C762.2,585.5 763.5,605.3 763.0,620.0 C762.5,634.7 758.0,643.3 757.0,660.0 C756.0,676.7 756.5,696.7 757.0,720.0 C757.5,743.3 758.5,783.7 760.0,800.0 C761.5,816.3 765.1,815.0 766.1,818.0 L767.1,818.0 C767.9,815.0 771.5,816.3 772.0,800.0 C772.5,783.7 770.3,743.3 770.0,720.0 C769.7,696.7 768.3,676.7 770.0,660.0 C771.7,643.3 779.0,634.7 780.0,620.0 C781.0,605.3 778.5,585.5 776.0,572.0 C773.5,558.5 769.3,551.8 765.0,539.0 C760.7,526.2 753.3,505.3 750.0,495.0 C746.7,484.7 746.1,480.0 745.3,477.0 Z" fill="#a00c62" stroke="#000" stroke-opacity="0.16" stroke-width="1"/>
<path d="M794.7,982.0 C794.4,985.0 793.3,987.0 793.0,1000.0 C792.7,1013.0 793.3,1043.3 793.0,1060.0 C792.7,1076.7 792.0,1088.3 791.0,1100.0 C790.0,1111.7 787.2,1118.8 787.0,1130.0 C786.8,1141.2 789.5,1160.8 790.0,1167.0 L813.0,1167.0 C812.2,1160.8 809.7,1141.2 808.0,1130.0 C806.3,1118.8 804.3,1111.7 803.0,1100.0 C801.7,1088.3 800.8,1076.7 800.0,1060.0 C799.2,1043.3 798.7,1013.0 798.0,1000.0 C797.3,987.0 796.1,985.0 795.7,982.0 Z" fill="#c8107a" stroke="#000" stroke-opacity="0.16" stroke-width="1"/>
<path d="M726.0,441.0 C729.3,451.8 738.0,484.2 746.0,506.0 C754.0,527.8 767.2,546.3 774.0,572.0 C780.8,597.7 784.3,627.5 787.0,660.0 C789.7,692.5 789.2,727.0 790.0,767.0 C790.8,807.0 787.7,855.7 792.0,900.0 C796.3,944.3 808.0,1001.3 816.0,1033.0 C824.0,1064.7 832.7,1075.3 840.0,1090.0 C847.3,1104.7 856.7,1115.8 860.0,1121.0 L866.0,1121.0 C864.3,1115.8 860.8,1104.7 856.0,1090.0 C851.2,1075.3 843.2,1064.7 837.0,1033.0 C830.8,1001.3 823.8,944.3 819.0,900.0 C814.2,855.7 810.3,807.0 808.0,767.0 C805.7,727.0 808.5,692.5 805.0,660.0 C801.5,627.5 794.3,597.7 787.0,572.0 C779.7,546.3 769.5,527.8 761.0,506.0 C752.5,484.2 740.2,451.8 736.0,441.0 Z" fill="url(#glm2)" stroke="#000" stroke-opacity="0.16" stroke-width="1"/>
<path d="M722.0,441.0 C722.7,447.5 724.8,469.2 726.0,480.0 C727.2,490.8 727.7,496.5 729.0,506.0 C730.3,515.5 731.8,526.0 734.0,537.0 C736.2,548.0 739.0,558.2 742.0,572.0 C745.0,585.8 748.8,605.3 752.0,620.0 C755.2,634.7 758.0,635.5 761.0,660.0 C764.0,684.5 769.3,727.0 770.0,767.0 C770.7,807.0 766.7,855.7 765.0,900.0 C763.3,944.3 760.5,994.8 760.0,1033.0 C759.5,1071.2 761.7,1113.0 762.0,1129.0 L795.0,1129.0 C795.0,1113.0 795.5,1071.2 795.0,1033.0 C794.5,994.8 791.7,944.3 792.0,900.0 C792.3,855.7 798.8,807.0 797.0,767.0 C795.2,727.0 785.5,684.5 781.0,660.0 C776.5,635.5 774.0,634.7 770.0,620.0 C766.0,605.3 761.3,585.8 757.0,572.0 C752.7,558.2 747.0,548.0 744.0,537.0 C741.0,526.0 740.3,515.5 739.0,506.0 C737.7,496.5 737.0,490.8 736.0,480.0 C735.0,469.2 733.5,447.5 733.0,441.0 Z" fill="#22c20e" stroke="#000" stroke-opacity="0.16" stroke-width="1"/>
<path d="M696.0,441.0 C696.2,451.8 696.8,488.3 697.0,506.0 C697.2,523.7 696.8,530.0 697.0,547.0 C697.2,564.0 697.5,586.7 698.0,608.0 C698.5,629.3 698.8,656.3 700.0,675.0 C701.2,693.7 702.7,704.7 705.0,720.0 C707.3,735.3 711.2,737.0 714.0,767.0 C716.8,797.0 723.0,855.7 722.0,900.0 C721.0,944.3 710.0,997.5 708.0,1033.0 C706.0,1068.5 709.7,1099.7 710.0,1113.0 L737.0,1113.0 C736.5,1099.7 732.3,1068.5 734.0,1033.0 C735.7,997.5 745.7,944.3 747.0,900.0 C748.3,855.7 744.8,797.0 742.0,767.0 C739.2,737.0 733.3,735.3 730.0,720.0 C726.7,704.7 723.5,693.7 722.0,675.0 C720.5,656.3 721.3,629.3 721.0,608.0 C720.7,586.7 720.3,564.0 720.0,547.0 C719.7,530.0 718.8,523.7 719.0,506.0 C719.2,488.3 720.7,451.8 721.0,441.0 Z" fill="url(#gmga)" stroke="#000" stroke-opacity="0.16" stroke-width="1"/>
<path d="M701.2,662.0 C701.0,665.0 699.9,670.3 700.0,680.0 C700.1,689.7 701.3,705.5 702.0,720.0 C702.7,734.5 703.3,751.2 704.0,767.0 C704.7,782.8 705.0,799.5 706.0,815.0 C707.0,830.5 708.8,849.2 710.0,860.0 C711.2,870.8 712.2,873.7 713.0,880.0 C713.8,886.3 714.6,895.0 715.0,898.0 L716.0,898.0 C716.1,895.0 716.5,886.3 717.0,880.0 C717.5,873.7 718.3,870.8 719.0,860.0 C719.7,849.2 721.0,830.5 721.0,815.0 C721.0,799.5 719.8,782.8 719.0,767.0 C718.2,751.2 717.8,734.5 716.0,720.0 C714.2,705.5 710.3,689.7 708.0,680.0 C705.7,670.3 703.2,665.0 702.2,662.0 Z" fill="#cc680c" stroke="#000" stroke-opacity="0.16" stroke-width="1"/>
<path d="M690.0,722.0 C689.0,725.0 686.0,728.8 684.0,740.0 C682.0,751.2 679.0,769.0 678.0,789.0 C677.0,809.0 677.2,841.5 678.0,860.0 C678.8,878.5 682.2,891.2 683.0,900.0 C683.8,908.8 682.7,890.8 683.0,913.0 C683.3,935.2 684.7,997.0 685.0,1033.0 C685.3,1069.0 685.0,1113.0 685.0,1129.0 L717.0,1129.0 C715.7,1113.0 710.7,1069.0 709.0,1033.0 C707.3,997.0 707.8,935.2 707.0,913.0 C706.2,890.8 706.5,908.8 704.0,900.0 C701.5,891.2 694.0,878.5 692.0,860.0 C690.0,841.5 691.7,809.0 692.0,789.0 C692.3,769.0 694.2,751.2 694.0,740.0 C693.8,728.8 691.5,725.0 691.0,722.0 Z" fill="#cc680c" stroke="#000" stroke-opacity="0.16" stroke-width="1"/>
<path d="M690.0,441.0 C690.2,452.0 691.0,489.3 691.0,507.0 C691.0,524.7 691.0,530.2 690.0,547.0 C689.0,563.8 686.2,586.7 685.0,608.0 C683.8,629.3 682.3,648.5 683.0,675.0 C683.7,701.5 687.2,737.8 689.0,767.0 C690.8,796.2 691.8,827.8 694.0,850.0 C696.2,872.2 700.2,889.5 702.0,900.0 C703.8,910.5 702.5,890.8 705.0,913.0 C707.5,935.2 711.2,996.0 717.0,1033.0 C722.8,1070.0 736.2,1118.0 740.0,1135.0 L763.0,1135.0 C760.3,1118.0 752.8,1070.0 747.0,1033.0 C741.2,996.0 731.8,935.2 728.0,913.0 C724.2,890.8 726.5,910.5 724.0,900.0 C721.5,889.5 716.2,872.2 713.0,850.0 C709.8,827.8 707.3,796.2 705.0,767.0 C702.7,737.8 700.2,701.5 699.0,675.0 C697.8,648.5 698.3,629.3 698.0,608.0 C697.7,586.7 696.8,563.8 697.0,547.0 C697.2,530.2 699.0,524.7 699.0,507.0 C699.0,489.3 697.3,452.0 697.0,441.0 Z" fill="#3a0c64" stroke="#000" stroke-opacity="0.16" stroke-width="1"/>
<path d="M687.0,441.0 C685.8,452.0 682.0,489.3 680.0,507.0 C678.0,524.7 677.2,530.2 675.0,547.0 C672.8,563.8 669.7,586.7 667.0,608.0 C664.3,629.3 660.8,659.7 659.0,675.0 C657.2,690.3 657.5,681.0 656.0,700.0 C654.5,719.0 651.0,762.3 650.0,789.0 C649.0,815.7 649.8,839.3 650.0,860.0 C650.2,880.7 650.7,884.2 651.0,913.0 C651.3,941.8 651.5,1001.8 652.0,1033.0 C652.5,1064.2 653.0,1079.5 654.0,1100.0 C655.0,1120.5 657.3,1146.7 658.0,1156.0 L689.0,1156.0 C688.8,1146.7 688.3,1120.5 688.0,1100.0 C687.7,1079.5 687.7,1064.2 687.0,1033.0 C686.3,1001.8 685.2,941.8 684.0,913.0 C682.8,884.2 681.0,880.7 680.0,860.0 C679.0,839.3 677.7,815.7 678.0,789.0 C678.3,762.3 681.3,719.0 682.0,700.0 C682.7,681.0 681.5,690.3 682.0,675.0 C682.5,659.7 683.7,629.3 685.0,608.0 C686.3,586.7 688.8,563.8 690.0,547.0 C691.2,530.2 690.8,524.7 692.0,507.0 C693.2,489.3 696.2,452.0 697.0,441.0 Z" fill="#d6b200" stroke="#000" stroke-opacity="0.16" stroke-width="1"/>
<path d="M615.6,852.0 C615.2,855.0 613.8,853.7 613.0,870.0 C612.2,886.3 611.2,920.0 611.0,950.0 C610.8,980.0 611.7,1024.2 612.0,1050.0 C612.3,1075.8 612.8,1095.8 613.0,1105.0 L620.0,1105.0 C620.2,1095.8 621.0,1075.8 621.0,1050.0 C621.0,1024.2 620.3,980.0 620.0,950.0 C619.7,920.0 619.6,886.3 619.0,870.0 C618.4,853.7 617.0,855.0 616.6,852.0 Z" fill="#a40a5a" stroke="#000" stroke-opacity="0.16" stroke-width="1"/>
<path d="M660.0,441.0 C658.7,452.0 654.0,489.3 652.0,507.0 C650.0,524.7 649.5,530.2 648.0,547.0 C646.5,563.8 645.3,586.7 643.0,608.0 C640.7,629.3 636.2,656.3 634.0,675.0 C631.8,693.7 631.7,701.0 630.0,720.0 C628.3,739.0 625.0,765.7 624.0,789.0 C623.0,812.3 624.5,841.5 624.0,860.0 C623.5,878.5 621.5,871.2 621.0,900.0 C620.5,928.8 621.0,993.8 621.0,1033.0 C621.0,1072.2 621.0,1118.0 621.0,1135.0 L651.0,1135.0 C651.0,1118.0 652.0,1072.2 651.0,1033.0 C650.0,993.8 645.2,928.8 645.0,900.0 C644.8,871.2 649.2,878.5 650.0,860.0 C650.8,841.5 649.3,812.3 650.0,789.0 C650.7,765.7 652.3,739.0 654.0,720.0 C655.7,701.0 657.5,693.7 660.0,675.0 C662.5,656.3 666.7,629.3 669.0,608.0 C671.3,586.7 672.5,563.8 674.0,547.0 C675.5,530.2 676.0,524.7 678.0,507.0 C680.0,489.3 684.7,452.0 686.0,441.0 Z" fill="url(#gtl)" stroke="#000" stroke-opacity="0.16" stroke-width="1"/>
<path d="M553.1,937.0 C552.9,940.0 552.5,944.5 552.0,955.0 C551.5,965.5 550.3,982.5 550.0,1000.0 C549.7,1017.5 549.8,1044.7 550.0,1060.0 C550.2,1075.3 550.8,1086.7 551.0,1092.0 L565.0,1092.0 C565.3,1086.7 566.7,1075.3 567.0,1060.0 C567.3,1044.7 568.5,1017.5 567.0,1000.0 C565.5,982.5 560.1,965.5 558.0,955.0 C555.9,944.5 554.8,940.0 554.1,937.0 Z" fill="#26c40e" stroke="#000" stroke-opacity="0.16" stroke-width="1"/>
<path d="M662.0,441.0 C660.7,452.0 656.2,489.3 654.0,507.0 C651.8,524.7 650.8,530.2 649.0,547.0 C647.2,563.8 645.7,586.7 643.0,608.0 C640.3,629.3 635.3,660.7 633.0,675.0 C630.7,689.3 632.7,678.7 629.0,694.0 C625.3,709.3 615.0,751.2 611.0,767.0 C607.0,782.8 607.8,776.8 605.0,789.0 C602.2,801.2 598.5,825.3 594.0,840.0 C589.5,854.7 582.5,864.7 578.0,877.0 C573.5,889.3 569.8,901.5 567.0,914.0 C564.2,926.5 562.7,939.5 561.0,952.0 C559.3,964.5 558.2,976.7 557.0,989.0 C555.8,1001.3 553.8,1014.7 554.0,1026.0 C554.2,1037.3 555.7,1046.3 558.0,1057.0 C560.3,1067.7 564.0,1080.2 568.0,1090.0 C572.0,1099.8 579.7,1111.7 582.0,1116.0 L590.0,1116.0 C589.2,1111.7 587.7,1099.8 585.0,1090.0 C582.3,1080.2 577.3,1067.7 574.0,1057.0 C570.7,1046.3 566.0,1037.3 565.0,1026.0 C564.0,1014.7 566.0,1001.3 568.0,989.0 C570.0,976.7 573.8,964.5 577.0,952.0 C580.2,939.5 583.2,926.5 587.0,914.0 C590.8,901.5 595.2,889.3 600.0,877.0 C604.8,864.7 610.7,854.7 616.0,840.0 C621.3,825.3 628.0,801.2 632.0,789.0 C636.0,776.8 635.8,782.8 640.0,767.0 C644.2,751.2 653.7,709.3 657.0,694.0 C660.3,678.7 658.0,689.3 660.0,675.0 C662.0,660.7 666.8,629.3 669.0,608.0 C671.2,586.7 671.7,563.8 673.0,547.0 C674.3,530.2 675.2,524.7 677.0,507.0 C678.8,489.3 682.8,452.0 684.0,441.0 Z" fill="url(#gtl)" stroke="#000" stroke-opacity="0.16" stroke-width="1"/>
</g>
<!-- PINS -->
<g id="pinL">
<path d="M492.6,318.4 L495.0,308.4 Q496.5,304.4 502.5,304.4 Q508.5,304.4 510.0,308.4 L512.4,318.4 L513.9,320.4 L514.4,366.4 C515.9,378.4 520.9,384.4 523.4,391.4 L520.9,395.4 L484.1,395.4 L482.1,391.4 C485.1,384.4 489.1,378.4 490.6,366.4 L491.1,320.4 Z" fill="#de8cb9"/>
<rect x="499.5" y="322.4" width="5" height="50" fill="#ffffff" opacity="0.10"/>
<path d="M496.5,376.4 L495.0,392.4 M509.5,376.4 L511.0,392.4" stroke="#a05a80" stroke-width="1.6" fill="none"/>
<rect x="491.7" y="396.4" width="21.6" height="18.3" fill="#de8cb9"/>
<ellipse cx="501.0" cy="397.4" rx="17.5" ry="3.2" fill="none" stroke="#ecbcd4" stroke-width="3"/>
<path d="M464.0,416.7 Q464.0,412.7 472.0,412.7 L535.5,412.7 Q543.5,412.7 543.5,416.7 L543.0,438.3 Q542.5,442.3 533.5,443.3 Q503.8,446.3 474.0,443.3 Q465.0,442.3 464.5,438.3 Z" fill="#d686b4"/>
<ellipse cx="503.8" cy="416.2" rx="36.8" ry="3.2" fill="#ffffff" opacity="0.13"/>
</g>
<g id="pinR">
<path d="M689.7,316.0 L692.1,306.0 Q693.6,302.0 699.6,302.0 Q705.6,302.0 707.1,306.0 L709.5,316.0 L711.0,318.0 L711.5,364.0 C713.0,376.0 718.0,382.0 720.5,389.0 L718.0,393.0 L681.2,393.0 L679.2,389.0 C682.2,382.0 686.2,376.0 687.7,364.0 L688.2,318.0 Z" fill="#d286b2"/>
<rect x="696.6" y="320.0" width="5" height="50" fill="#ffffff" opacity="0.10"/>
<path d="M693.6,374.0 L692.1,390.0 M706.6,374.0 L708.1,390.0" stroke="#9a5278" stroke-width="1.6" fill="none"/>
<rect x="688.8" y="394.0" width="21.6" height="18.8" fill="#d286b2"/>
<ellipse cx="698.1" cy="395.0" rx="17.5" ry="3.2" fill="none" stroke="#e2b4cb" stroke-width="3"/>
<path d="M656.7,414.8 Q656.7,410.8 664.7,410.8 L728.2,410.8 Q736.2,410.8 736.2,414.8 L735.7,435.6 Q735.2,439.6 726.2,440.6 Q696.5,443.6 666.7,440.6 Q657.7,439.6 657.2,435.6 Z" fill="#cc82ad"/>
<ellipse cx="696.5" cy="414.3" rx="36.8" ry="3.2" fill="#ffffff" opacity="0.13"/>
</g>
<!-- ARROWS -->
<g stroke="#000" stroke-width="4.3" fill="none" stroke-linecap="round" stroke-linejoin="round">
<line x1="808.9" y1="314" x2="808.9" y2="431"/>
<path d="M801.6,322.6 L808.9,313.4 L816.2,322.6"/>
<path d="M801.6,422.6 L808.9,431.8 L816.2,422.6"/>
<line x1="293.3" y1="419" x2="295.9" y2="1069.5"/>
<path d="M286.6,427.4 L293.3,418.4 L300.1,427.4"/>
<path d="M289.1,1061.4 L295.9,1070.3 L302.7,1061.4"/>
</g>
<!-- TEXT -->
<g fill="#000" font-size="42" stroke="#000" stroke-width="0.6">
<text x="856" y="328" textLength="266" lengthAdjust="spacingAndGlyphs">bevestigings</text>
<text x="914" y="389.4" textLength="150" lengthAdjust="spacingAndGlyphs">pinnen</text>
<text x="939" y="447.7" textLength="99" lengthAdjust="spacingAndGlyphs">3 cm</text>
<text x="144.2" y="594" textLength="136.3" lengthAdjust="spacingAndGlyphs">Linten</text>
<text x="150.6" y="654.6" font-size="44" textLength="124.7" lengthAdjust="spacingAndGlyphs">24 cm</text>
</g>
</svg>
</body></html>
